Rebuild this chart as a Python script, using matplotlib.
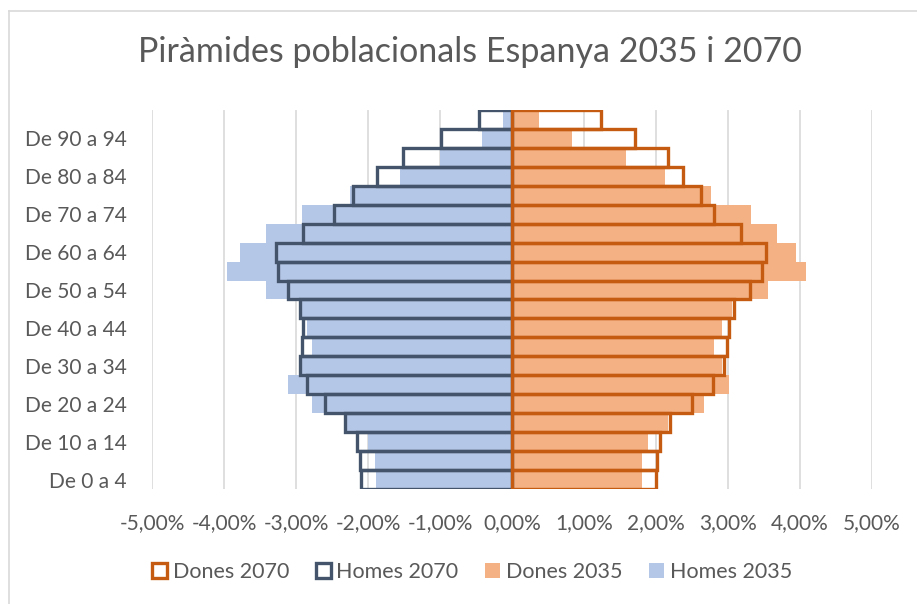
import matplotlib
matplotlib.use("Agg")
import matplotlib.pyplot as plt
from matplotlib.patches import Rectangle
from matplotlib.lines import Line2D
from matplotlib.ticker import FuncFormatter

plt.rcParams['font.family'] = ['Lato', 'DejaVu Sans']

# Age groups (bottom to top)
categories = ["De 0 a 4", "De 5 a 9", "De 10 a 14", "De 15 a 19", "De 20 a 24",
              "De 25 a 29", "De 30 a 34", "De 35 a 39", "De 40 a 44", "De 45 a 49",
              "De 50 a 54", "De 55 a 59", "De 60 a 64", "De 65 a 69", "De 70 a 74",
              "De 75 a 79", "De 80 a 84", "De 85 a 89", "De 90 a 94", "De 95 a 99"]

# Percent of total population (men negative)
homes_2035 = [-1.89, -1.90, -2.00, -2.30, -2.78, -3.11, -2.93, -2.78, -2.85, -2.92,
              -3.41, -3.96, -3.78, -3.41, -2.92, -2.25, -1.56, -1.00, -0.42, -0.12]
dones_2035 = [1.80, 1.81, 1.89, 2.17, 2.66, 3.01, 2.91, 2.80, 2.91, 3.06,
              3.56, 4.09, 3.94, 3.68, 3.32, 2.77, 2.12, 1.59, 0.84, 0.37]
homes_2070 = [-2.10, -2.11, -2.15, -2.32, -2.60, -2.85, -2.94, -2.92, -2.90, -2.94,
              -3.11, -3.25, -3.28, -2.90, -2.47, -2.21, -1.88, -1.52, -0.99, -0.46]
dones_2070 = [2.00, 2.01, 2.05, 2.20, 2.50, 2.79, 2.94, 2.98, 3.01, 3.09,
              3.30, 3.47, 3.53, 3.18, 2.81, 2.62, 2.38, 2.17, 1.71, 1.23]

x_ticks = [-5, -4, -3, -2, -1, 0, 1, 2, 3, 4, 5]

c_d70 = "#C55A11"
c_h70 = "#44546A"
c_d35 = "#F4B183"
c_h35 = "#B4C7E7"
txt = "#595959"

W, H = 917, 604
fig = plt.figure(figsize=(W / 100, H / 100), dpi=100)
ax = fig.add_axes([152 / W, 1 - 489 / H, (872 - 152) / W, (489 - 110) / H])

y = list(range(len(categories)))
ax.barh(y, homes_2035, height=1.0, color=c_h35, zorder=2)
ax.barh(y, dones_2035, height=1.0, color=c_d35, zorder=2)
ax.barh(y, homes_2070, height=1.0, facecolor='none', edgecolor=c_h70, linewidth=2.4, zorder=3)
ax.barh(y, dones_2070, height=1.0, facecolor='none', edgecolor=c_d70, linewidth=2.4, zorder=3)

ax.set_xlim(x_ticks[0], x_ticks[-1])
ax.set_ylim(-0.5, len(categories) - 0.5)
ax.set_xticks(x_ticks)
ax.xaxis.set_major_formatter(FuncFormatter(lambda v, p: f"{v:.2f}%".replace(".", ",")))
ax.set_yticks(y[::2])
ax.set_yticklabels(categories[::2])
ax.grid(axis='x', color="#D9D9D9", linewidth=1.2, zorder=0)
ax.set_axisbelow(True)
ax.axvline(0, color="#BFBFBF", linewidth=1, zorder=1)
for s in ax.spines.values():
    s.set_visible(False)
ax.tick_params(axis='both', length=0, labelsize=15, labelcolor=txt)
ax.tick_params(axis='x', pad=17)
ax.tick_params(axis='y', pad=18)

fig.text(470 / W, 1 - 52 / H, "Piràmides poblacionals Espanya 2035 i 2070",
         ha='center', va='center', fontsize=24.5, color=txt)

handles = [
    Rectangle((0, 0), 1, 1, facecolor='white', edgecolor=c_d70, linewidth=2.4),
    Rectangle((0, 0), 1, 1, facecolor='white', edgecolor=c_h70, linewidth=2.4),
    Rectangle((0, 0), 1, 1, facecolor=c_d35, edgecolor='none'),
    Rectangle((0, 0), 1, 1, facecolor=c_h35, edgecolor='none'),
]
labels = ["Dones 2070", "Homes 2070", "Dones 2035", "Homes 2035"]
leg = fig.legend(handles, labels, loc='center', bbox_to_anchor=(472 / W, 1 - 572 / H),
                 ncol=4, frameon=False, fontsize=15.5, handlelength=0.7, handleheight=0.7,
                 handletextpad=0.25, columnspacing=1.25, labelcolor=txt)

# chart area border
fig.add_artist(Line2D([8.5 / W, 8.5 / W], [0, 1 - 10.5 / H], transform=fig.transFigure,
                      color="#D9D9D9", linewidth=1.2))
fig.add_artist(Line2D([8.5 / W, 1], [1 - 10.5 / H, 1 - 10.5 / H], transform=fig.transFigure,
                      color="#D9D9D9", linewidth=1.2))

fig.savefig("out.png", dpi=100, facecolor='white')
